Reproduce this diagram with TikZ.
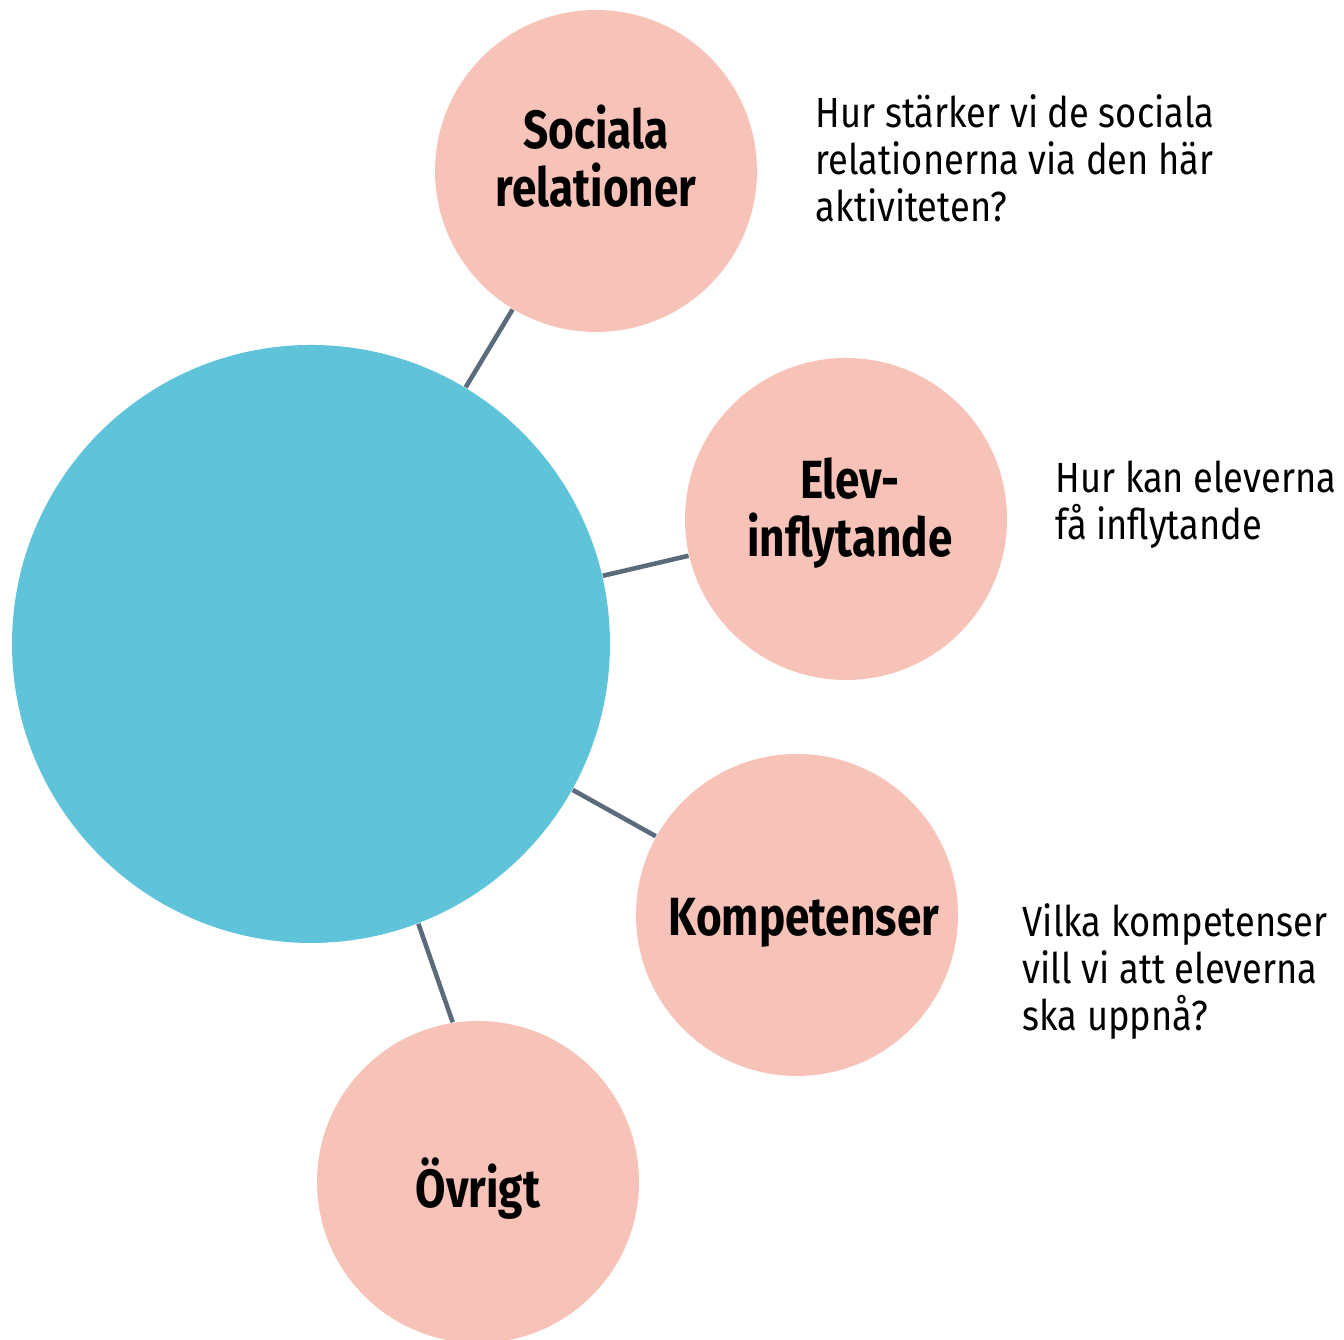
\documentclass[tikz,border=0pt]{standalone}
\usepackage{fontspec}
\setmainfont{Fira Sans}[FakeStretch=0.86]
\newfontfamily\labelfont{Fira Sans}[FakeStretch=0.82]
\usepackage{xcolor}
\usepackage{tikz}
\definecolor{hubblue}{HTML}{5FC3D9}
\definecolor{petalpink}{HTML}{F7C3B8}
\definecolor{stemgray}{HTML}{5B6B7C}
\tikzset{
  hub/.style={circle, fill=hubblue, minimum size=5.98cm, inner sep=0pt},
  petal/.style={circle, fill=petalpink, minimum size=3.22cm, inner sep=0pt},
  petaltext/.style={align=center, inner sep=0pt,
    font=\labelfont\bfseries\fontsize{15.3}{16.5}\selectfont},
  question/.style={anchor=north west, inner sep=0pt, align=left,
    font=\fontsize{12}{13.4}\selectfont},
  stem/.style={draw=stemgray, line width=1.3pt},
}

\begin{document}
\begin{tikzpicture}
            \useasboundingbox (0,0) rectangle (13.44,13.40);
            \node[hub] (hub) at (3.11,6.96) {};
            \node[petal, label={[petaltext, yshift=0.15cm]center:{Sociala\\relationer}}] (soc) at (5.96,11.69) {};
            \node[petal, label={[petaltext, xshift=0.04cm, yshift=0.06cm]center:{Elev-\\inflytande}}] (elev) at (8.46,8.21) {};
            \node[petal, label={[petaltext, xshift=0.07cm, yshift=-0.08cm]center:Kompetenser}] (komp) at (7.97,4.25) {};
            \node[petal, label={[petaltext, yshift=-0.07cm]center:Övrigt}] (ovr) at (4.78,1.58) {};
            \draw[stem] (hub) -- (soc);
            \draw[stem] (hub) -- (elev);
            \draw[stem] (hub) -- (komp);
            \draw[stem] (hub.-69.7) -- (ovr.99.6);
            \node[question] (qsoc) at (8.15,12.46) {Hur stärker vi de sociala\\relationerna via den här\\aktiviteten?};
            \node[question] (qelev) at (10.55,8.80) {Hur kan eleverna\\få inflytande};
            \node[question] (qkomp) at (10.22,4.37) {Vilka kompetenser\\vill vi att eleverna\\ska uppnå?};
        \end{tikzpicture}
\end{document}
